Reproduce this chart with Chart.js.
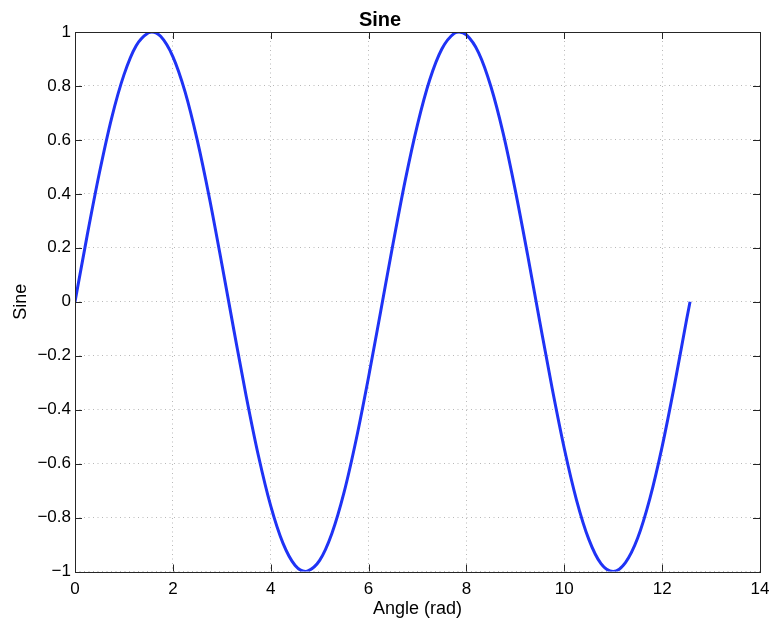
<!DOCTYPE html>
<html>
<head>
<meta charset="utf-8">
<script src="https://cdn.jsdelivr.net/npm/chart.js@4"></script>
<style>
  html, body { margin: 0; padding: 0; background: #fff; }
  #wrap { width: 772px; height: 623px; }
</style>
</head>
<body>
<div id="wrap"><canvas id="sineChart" width="772" height="623"></canvas></div>
<script>
// valeurs
const angles = [0, 0.25, 0.5, 0.75, 1.0, 1.25, 1.5, 1.57, 1.75, 2.0, 2.25, 2.5, 2.75, 3.0, 3.25, 3.5,
  3.75, 4.0, 4.25, 4.5, 4.71, 4.75, 5.0, 5.25, 5.5, 5.75, 6.0, 6.25, 6.5, 6.75, 7.0, 7.25, 7.5, 7.75,
  7.85, 8.0, 8.25, 8.5, 8.75, 9.0, 9.25, 9.5, 9.75, 10.0, 10.25, 10.5, 10.75, 11.0, 11.25, 11.5, 11.75,
  12.0, 12.25, 12.5, 12.57];
const sineValues = [0, 0.247, 0.479, 0.682, 0.841, 0.949, 0.997, 1.0, 0.984, 0.909, 0.778, 0.598, 0.382, 0.141, -0.108, -0.351,
  -0.572, -0.757, -0.895, -0.978, -1.0, -0.999, -0.959, -0.859, -0.706, -0.508, -0.279, -0.033, 0.215, 0.451, 0.657, 0.823, 0.938, 0.995,
  1.0, 0.989, 0.923, 0.798, 0.625, 0.412, 0.174, -0.075, -0.319, -0.544, -0.735, -0.880, -0.971, -1.0, -0.967, -0.876, -0.729,
  -0.537, -0.311, -0.066, 0.0];
const xTicks = [0, 2, 4, 6, 8, 10, 12, 14];
const yTicks = [-1, -0.8, -0.6, -0.4, -0.2, 0, 0.2, 0.4, 0.6, 0.8, 1];

const FONT = "'Liberation Sans', Arial, Helvetica, sans-serif";
const fmt = v => {
  const r = Math.round(v * 10) / 10;
  const s = Math.abs(r).toString();
  return r < 0 ? '\u2212' + s : s;
};

// cadre + graduations vers l'intérieur (style MATLAB)
const cadrePlugin = {
  id: 'cadre',
  afterDraw(chart) {
    const { ctx, chartArea: a, scales } = chart;
    const len = 7;
    ctx.save();
    ctx.strokeStyle = '#262626';
    ctx.lineWidth = 1;
    ctx.beginPath();
    scales.x.ticks.forEach(t => {
      const px = Math.round(scales.x.getPixelForValue(t.value)) + 0.5;
      ctx.moveTo(px, a.bottom); ctx.lineTo(px, a.bottom - len);
      ctx.moveTo(px, a.top); ctx.lineTo(px, a.top + len);
    });
    scales.y.ticks.forEach(t => {
      const py = Math.round(scales.y.getPixelForValue(t.value)) + 0.5;
      ctx.moveTo(a.left, py); ctx.lineTo(a.left + len, py);
      ctx.moveTo(a.right, py); ctx.lineTo(a.right - len, py);
    });
    ctx.stroke();
    ctx.strokeRect(Math.round(a.left) + 0.5, Math.round(a.top) + 0.5,
      Math.round(a.right - a.left), Math.round(a.bottom - a.top));
    ctx.restore();
  }
};

const ctx = document.getElementById('sineChart').getContext('2d');
new Chart(ctx, {
  type: 'line',
  data: {
    datasets: [{
      label: 'Sine',
      data: angles.map((x, i) => ({ x: x, y: sineValues[i] })),
      borderColor: '#1f33f5',
      borderWidth: 3,
      pointRadius: 0,
      fill: false,
      cubicInterpolationMode: 'monotone'
    }]
  },
  options: {
    responsive: false,
    animation: false,
    layout: { padding: { left: 0, right: 12, top: 0, bottom: 0 } },
    plugins: {
      legend: { display: false },
      tooltip: { enabled: false },
      title: {
        display: true,
        text: 'Sine',
        color: '#000',
        font: { family: FONT, size: 20, weight: 'bold', lineHeight: 1.2 },
        padding: { top: 8, bottom: 0 }
      }
    },
    scales: {
      x: {
        type: 'linear',
        min: 0, max: 14,
        afterBuildTicks: s => { s.ticks = xTicks.map(v => ({ value: v })); },
        afterFit: s => { s.height = 51.5; s.paddingLeft = 0; s.paddingRight = 0; },
        grid: { color: '#b8b8b8', drawTicks: false, lineWidth: 1 },
        border: { display: false, dash: [1, 3.5] },
        ticks: { color: '#000', padding: 8, font: { family: FONT, size: 17 }, callback: v => fmt(v), maxRotation: 0 },
        title: { display: true, text: 'Angle (rad)', color: '#000', font: { family: FONT, size: 18, lineHeight: 1.2 }, padding: { top: 0, bottom: 3 } }
      },
      y: {
        type: 'linear',
        min: -1, max: 1,
        afterBuildTicks: s => { s.ticks = yTicks.map(v => ({ value: v })); },
        afterFit: s => { s.width = 75; s.paddingTop = 0; s.paddingBottom = 0; },
        grid: { color: '#b8b8b8', drawTicks: false, lineWidth: 1 },
        border: { display: false, dash: [1, 3.5] },
        ticks: { color: '#000', padding: 4, font: { family: FONT, size: 17 }, callback: v => fmt(v) },
        title: { display: true, text: 'Sine', color: '#000', font: { family: FONT, size: 18, lineHeight: 1.2 }, padding: { top: 10, bottom: 0 } }
      }
    }
  },
  plugins: [cadrePlugin]
});
</script>
</body>
</html>
